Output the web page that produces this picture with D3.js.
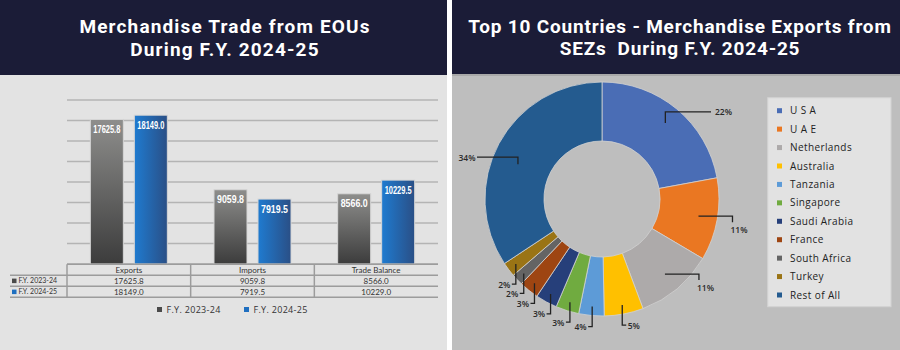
<!DOCTYPE html>
<html>
<head>
<meta charset="utf-8">
<script src="https://cdn.jsdelivr.net/npm/d3@7"></script>
<style>
  body { margin: 0; background: #fff; }
  svg { display: block; font-family: "Open Sans", sans-serif; }
</style>
</head>
<body>
<div id="chart"></div>
<script>
// --------------------------------------
//  Data
// --------------------------------------

const categories = ["Exports", "Imports", "Trade Balance"];
const seriesNames = ["F.Y. 2023-24", "F.Y. 2024-25"];
const fy2324 = [17625.8, 9059.8, 8566.0];
const fy2425 = [18149.0, 7919.5, 10229.5];
const fy2425Table = [18149.0, 7919.5, 10229.0];
const gridTicks = [0, 2500, 5000, 7500, 10000, 12500, 15000, 17500, 20000];

const countries = ["U S A", "U A E", "Netherlands", "Australia", "Tanzania", "Singapore",
  "Saudi Arabia", "France", "South Africa", "Turkey", "Rest of All"];
const shares = [22.1, 11.4, 10.8, 5.4, 3.5, 3.2, 3.0, 2.7, 1.6, 2.0, 34.3];
const countryColors = ["#4a6db5", "#ea7722", "#adaaaa", "#ffc000", "#5d9bd7", "#70ab40",
  "#263f7a", "#9e4512", "#646464", "#9a7415", "#245b8f"];

const leftTitle = ["Merchandise Trade from EOUs", "During F.Y. 2024-25"];
const rightTitle = ["Top 10 Countries - Merchandise Exports from", "SEZs  During F.Y. 2024-25"];

// --------------------------------------
//  Canvas
// --------------------------------------

const width = 900;
const height = 350;

const svg = d3.select("#chart")
  .append("svg")
    .attr("width", width)
    .attr("height", height);

const defs = svg.append("defs");

const gGray = defs.append("linearGradient")
    .attr("id", "gradGray")
    .attr("x1", 0).attr("y1", 0).attr("x2", 0).attr("y2", 1);
gGray.append("stop").attr("offset", 0).attr("stop-color", "#8e8e8c");
gGray.append("stop").attr("offset", 1).attr("stop-color", "#3c3c3c");

const gBlue = defs.append("linearGradient")
    .attr("id", "gradBlue")
    .attr("x1", 0).attr("y1", 0).attr("x2", 1).attr("y2", 0);
gBlue.append("stop").attr("offset", 0).attr("stop-color", "#1f7bd0");
gBlue.append("stop").attr("offset", 1).attr("stop-color", "#2a4f86");

// panels
svg.append("rect").attr("x", 0).attr("y", 0).attr("width", 447).attr("height", 75).attr("fill", "#1b1c37");
svg.append("rect").attr("x", 0).attr("y", 75).attr("width", 447).attr("height", 275).attr("fill", "#e3e3e3");
svg.append("rect").attr("x", 452).attr("y", 0).attr("width", 448).attr("height", 74).attr("fill", "#1b1c37");
svg.append("rect").attr("x", 452).attr("y", 74).attr("width", 448).attr("height", 2).attr("fill", "#a9a9a9");
svg.append("rect").attr("x", 452).attr("y", 76).attr("width", 448).attr("height", 274).attr("fill", "#bebebe");

// titles (two lines each)
function title(lines, x, y1, y2, spacing) {
  const t = svg.append("text")
      .attr("text-anchor", "middle")
      .attr("fill", "#fff")
      .attr("font-family", "Roboto, sans-serif")
      .attr("font-size", 19)
      .attr("font-weight", 700)
      .attr("letter-spacing", spacing)
      .style("white-space", "pre");
  t.append("tspan").attr("x", x).attr("y", y1).text(lines[0]);
  t.append("tspan").attr("x", x).attr("y", y2).text(lines[1]);
}

title(leftTitle, 225, 33, 56, 1.15);
title(rightTitle, 680, 33, 55, 0.8);

// --------------------------------------
//  Left: grouped bars
// --------------------------------------

const x0 = d3.scaleBand()
    .domain(categories)
    .range([67, 438]);

const x1 = d3.scaleBand()
    .domain(seriesNames)
    .range([0, x0.bandwidth()])
    .paddingInner(0.25)
    .paddingOuter(0.53);

const y = d3.scaleLinear()
    .domain([0, 20000])
    .range([264, 100]);

const fills = d3.scaleOrdinal()
    .domain(seriesNames)
    .range(["url(#gradGray)", "url(#gradBlue)"]);

const keyColor = d3.scaleOrdinal()
    .domain(seriesNames)
    .range(["#4a4a4a", "#1f6fc0"]);

const left = svg.append("g");

left.append("g")
    .selectAll("line")
    .data(gridTicks)
    .join("line")
    .attr("x1", x0.range()[0])
    .attr("x2", x0.range()[1])
    .attr("y1", d => y(d))
    .attr("y2", d => y(d))
    .attr("stroke", "#b4b4b4")
    .attr("stroke-width", 1.5);

const rows = categories.map((c, i) => ({cat: c, vals: [fy2324[i], fy2425[i]]}));

const groups = left.append("g")
    .selectAll("g")
    .data(rows)
    .join("g")
    .attr("transform", d => `translate(${x0(d.cat)},0)`);

const barData = d => d.vals.map((v, j) => ({s: seriesNames[j], v: v}));

groups.selectAll("rect")
    .data(barData)
    .join("rect")
    .attr("x", d => x1(d.s))
    .attr("y", d => y(d.v))
    .attr("width", x1.bandwidth())
    .attr("height", d => y(0) - y(d.v))
    .attr("fill", d => fills(d.s))
    .attr("stroke", "#d6d6d6")
    .attr("stroke-width", 1);

// condensed value labels
groups.selectAll("text")
    .data(barData)
    .join("text")
    .attr("x", d => x1(d.s) + x1.bandwidth() / 2)
    .attr("y", d => y(d.v) + 13.5)
    .attr("text-anchor", "middle")
    .attr("fill", "#fff")
    .attr("font-family", "'Liberation Sans', sans-serif")
    .attr("font-weight", 700)
    .attr("font-size", 10)
    .attr("textLength", 27)
    .attr("lengthAdjust", "spacingAndGlyphs")
    .text(d => d.v.toFixed(1));

// --------------------------------------
//  Left: data table
// --------------------------------------

const tRows = d3.scaleBand()
    .domain(["head", ...seriesNames])
    .range([264.3, 297.3]);

const table = svg.append("g")
    .attr("font-family", "Lato, sans-serif")
    .attr("fill", "#333");

const hLines = [tRows("head"), tRows(seriesNames[0]), tRows(seriesNames[1]), tRows.range()[1]];

table.selectAll(".hline")
    .data(hLines)
    .join("line")
    .attr("class", "hline")
    .attr("x1", (d, i) => i === 0 ? x0.range()[0] : 10)
    .attr("x2", x0.range()[1])
    .attr("y1", d => d)
    .attr("y2", d => d)
    .attr("stroke", "#9c9c9c")
    .attr("stroke-width", 1.5);

table.selectAll(".vline")
    .data([x0.range()[0], x0("Imports"), x0("Trade Balance")])
    .join("line")
    .attr("class", "vline")
    .attr("x1", d => d)
    .attr("x2", d => d)
    .attr("y1", tRows.range()[0])
    .attr("y2", tRows.range()[1])
    .attr("stroke", "#9c9c9c")
    .attr("stroke-width", 1.5);

table.selectAll(".thead")
    .data(categories)
    .join("text")
    .attr("class", "thead")
    .attr("x", d => x0(d) + x0.bandwidth() / 2)
    .attr("y", tRows("head") + tRows.bandwidth() / 2 + 3)
    .attr("text-anchor", "middle")
    .attr("font-size", 8)
    .text(d => d);

const tableVals = [fy2324, fy2425Table];

seriesNames.forEach((s, j) => {
  const ry = tRows(s) + tRows.bandwidth() / 2;
  table.append("rect")
      .attr("x", 12).attr("y", ry - 2.2)
      .attr("width", 4.5).attr("height", 4.5)
      .attr("fill", keyColor(s));
  table.append("text")
      .attr("x", 18.5).attr("y", ry + 2.6)
      .attr("font-size", 7)
      .text(s);
  table.selectAll(".tv" + j)
      .data(tableVals[j])
      .join("text")
      .attr("x", (d, i) => x0(categories[i]) + x0.bandwidth() / 2)
      .attr("y", ry + 2.8)
      .attr("text-anchor", "middle")
      .attr("font-size", 8)
      .text(d => d.toFixed(1));
});

// legend below
const legX = d3.scaleOrdinal().domain(seriesNames).range([157, 244]);

const leg = svg.append("g")
    .selectAll("g")
    .data(seriesNames)
    .join("g")
    .attr("transform", d => `translate(${legX(d)},310)`);

leg.append("rect")
    .attr("x", 0).attr("y", -3)
    .attr("width", 5).attr("height", 5)
    .attr("fill", d => keyColor(d));

leg.append("text")
    .attr("x", 9.5).attr("y", 3)
    .attr("font-size", 9)
    .attr("font-weight", 500)
    .attr("letter-spacing", 0.3)
    .attr("fill", "#333")
    .text(d => d);

// --------------------------------------
//  Right: donut
// --------------------------------------

const cx = 602, cy = 199;

const pie = d3.pie()
    .sort(null)
    .value(d => d.v);

const arcs = pie(shares.map((v, i) => ({name: countries[i], v: v, c: countryColors[i]})));

const arc = d3.arc()
    .innerRadius(58)
    .outerRadius(117);

const donut = svg.append("g")
    .attr("transform", `translate(${cx},${cy})`);

donut.selectAll("path")
    .data(arcs)
    .join("path")
    .attr("d", arc)
    .attr("fill", d => d.data.c)
    .attr("stroke", "#d2d2d2")
    .attr("stroke-width", 0.8);

// leader lines
function leader(d) {
  const a = (d.startAngle + d.endAngle) / 2;
  const pt = (r, ang) => [r * Math.sin(ang), -r * Math.cos(ang)];
  let pts, lab;
  if (a < 1.0) {
    const p0 = pt(99, a);
    const p1 = [p0[0], p0[1] - 11];
    const p2 = [109, p1[1]];
    pts = [p0, p1, p2];
    lab = {x: p2[0] + 4, y: p2[1] + 3.5, anchor: "start"};
  } else if (a < 2.6) {
    const p0 = pt(98, a);
    const p1 = [p0[0] + 34, p0[1]];
    const p2 = [p1[0], p1[1] + 6];
    pts = [p0, p1, p2];
    lab = {x: p1[0] - 2, y: p2[1] + 11, anchor: "start"};
  } else if (a < 4.3) {
    const side = a < Math.PI ? 1 : -1;
    const p0 = pt(108, a);
    const p1 = [p0[0], p0[1] + 20];
    const p2 = [p1[0] + side * 4, p1[1]];
    pts = [p0, p1, p2];
    lab = {x: p2[0] + side * 1.5, y: p2[1] + 3.5, anchor: side > 0 ? "start" : "end"};
  } else {
    const p0 = pt(91, a - 0.1);
    const p1 = [p0[0], p0[1] - 7];
    const p2 = [-125, p1[1]];
    pts = [p0, p1, p2];
    lab = {x: p2[0] - 1.5, y: p2[1] + 3.5, anchor: "end"};
  }
  return {pts, lab};
}

const leaders = arcs.map(d => ({d: d, ...leader(d)}));

donut.selectAll(".leader")
    .data(leaders)
    .join("polyline")
    .attr("class", "leader")
    .attr("points", d => d.pts.map(p => p.join(",")).join(" "))
    .attr("fill", "none")
    .attr("stroke", "#222")
    .attr("stroke-width", 1.3);

donut.selectAll(".pct")
    .data(leaders)
    .join("text")
    .attr("class", "pct")
    .attr("x", d => d.lab.x)
    .attr("y", d => d.lab.y)
    .attr("text-anchor", d => d.lab.anchor)
    .attr("font-size", 8.5)
    .attr("font-weight", 600)
    .attr("fill", "#2a2a2a")
    .text(d => Math.round(d.d.data.v) + "%");

// --------------------------------------
//  Right: legend
// --------------------------------------

svg.append("rect")
    .attr("x", 767.7).attr("y", 97.7)
    .attr("width", 123.3).attr("height", 209)
    .attr("fill", "#e2e2e2")
    .attr("stroke", "#d3d3d3");

const ly = d3.scalePoint()
    .domain(countries)
    .range([110.7, 295]);

const items = svg.append("g")
    .selectAll("g")
    .data(countries)
    .join("g")
    .attr("transform", d => `translate(777,${ly(d)})`);

items.append("rect")
    .attr("x", 0).attr("y", -2.5)
    .attr("width", 5).attr("height", 5)
    .attr("fill", (d, i) => countryColors[i]);

items.append("text")
    .attr("x", 13).attr("y", 3.6)
    .attr("font-size", 10)
    .attr("font-weight", 500)
    .attr("letter-spacing", 0.4)
    .attr("fill", "#222")
    .text(d => d);
</script>
</body>
</html>
